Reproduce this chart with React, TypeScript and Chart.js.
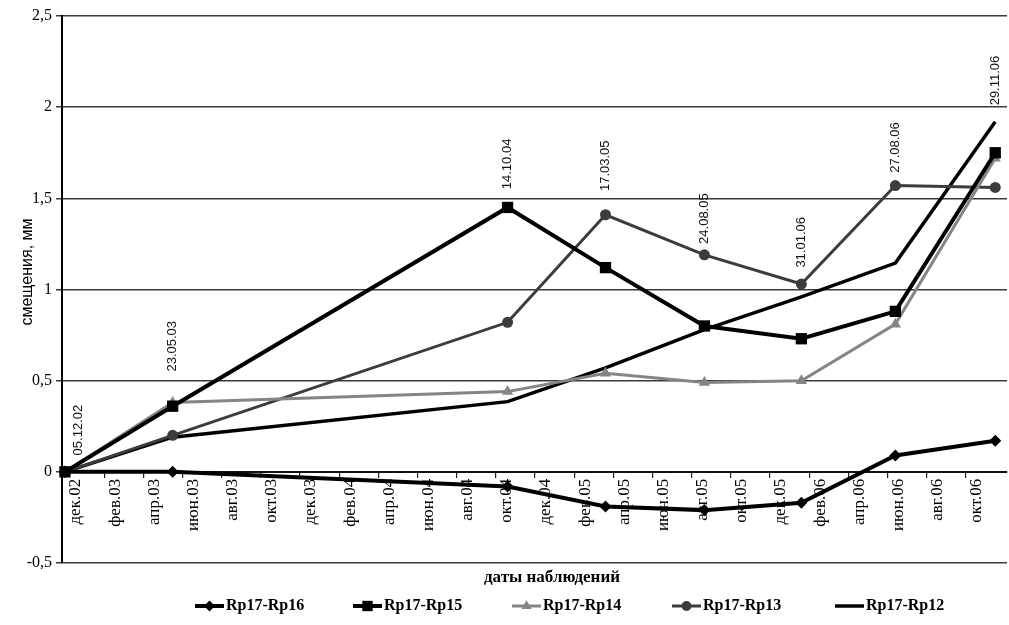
import React, { useEffect, useRef } from 'react';
import { Chart, registerables } from 'chart.js';

Chart.register(...registerables);

// month index counted from Dec 2002 (0 = дек.02)
const MONTH_TICKS = [0, 2, 4, 6, 8, 10, 12, 14, 16, 18, 20, 22, 24, 26, 28, 30, 32, 34, 36, 38, 40, 42, 44, 46];
const TICK_LABELS = [
  'дек.02', 'фев.03', 'апр.03', 'июн.03', 'авг.03', 'окт.03',
  'дек.03', 'фев.04', 'апр.04', 'июн.04', 'авг.04', 'окт.04',
  'дек.04', 'фев.05', 'апр.05', 'июн.05', 'авг.05', 'окт.05',
  'дек.05', 'фев.06', 'апр.06', 'июн.06', 'авг.06', 'окт.06',
];
const Y_TICKS = [-0.5, 0, 0.5, 1, 1.5, 2, 2.5];

// observation epochs (position on the month axis as plotted) and their labels
const OBS_X = [0, 5.5, 22.6, 27.6, 32.65, 37.6, 42.4, 47.5];
const OBS_DATES = ['05.12.02', '23.05.03', '14.10.04', '17.03.05', '24.08.05', '31.01.06', '27.08.06', '29.11.06'];
const OBS_LABEL_Y = [0.09, 0.55, 1.55, 1.54, 1.25, 1.12, 1.64, 2.01];

// displacement series, mm
const RP16 = [0, 0, -0.08, -0.19, -0.21, -0.17, 0.09, 0.17];
const RP15 = [0, 0.36, 1.45, 1.12, 0.8, 0.73, 0.88, 1.75];
const RP14 = [0, 0.38, 0.44, 0.54, 0.49, 0.5, 0.81, 1.72];
const RP13 = [0, 0.2, 0.82, 1.41, 1.19, 1.03, 1.57, 1.56];
const RP12 = [0, 0.19, 0.385, 0.57, 0.78, 0.96, 1.145, 1.92];

const SERIES_NAMES = ['Rp17-Rp16', 'Rp17-Rp15', 'Rp17-Rp14', 'Rp17-Rp13', 'Rp17-Rp12'];
const SERIES_VALUES = [RP16, RP15, RP14, RP13, RP12];

const COLORS = ['#000000', '#000000', '#858585', '#3c3c3c', '#000000'];
const LINE_W = [4, 4, 3, 3, 3.5];
const POINT_STYLE: any[] = ['rectRot', 'rect', 'triangle', 'circle', false];
const POINT_R = [6, 8, 6.5, 5.5, 0];

const SERIF = '"Liberation Serif", "Times New Roman", serif';
const SANS = '"Liberation Sans", Arial, sans-serif';

const textPlugin = {
  id: 'extraTexts',
  afterDraw(chart: any) {
    const { ctx, chartArea } = chart;
    const x = chart.scales.x;
    const y = chart.scales.y;
    ctx.save();

    // date annotations
    ctx.font = '13px ' + SANS;
    ctx.fillStyle = '#111';
    OBS_DATES.forEach((t, i) => {
      let px = x.getPixelForValue(OBS_X[i]);
      px = Math.max(px, chartArea.left + 16);
      const py = y.getPixelForValue(OBS_LABEL_Y[i]);
      ctx.save();
      ctx.translate(px, py);
      ctx.rotate(-Math.PI / 2);
      ctx.textAlign = 'left';
      ctx.textBaseline = 'middle';
      ctx.fillText(t, 0, 0);
      ctx.restore();
    });

    // y title
    ctx.save();
    ctx.font = '16px ' + SANS;
    ctx.fillStyle = '#000';
    ctx.translate(28, 272);
    ctx.rotate(-Math.PI / 2);
    ctx.textAlign = 'center';
    ctx.textBaseline = 'middle';
    ctx.fillText('смещения, мм', 0, 0);
    ctx.restore();

    // x title
    ctx.font = 'bold 17px ' + SERIF;
    ctx.fillStyle = '#000';
    ctx.textAlign = 'center';
    ctx.textBaseline = 'middle';
    ctx.fillText('даты наблюдений', 552, 578);

    // legend
    const starts = [195, 353, 512, 672, 835];
    const ly = 606;
    ctx.font = 'bold 16px ' + SERIF;
    ctx.textAlign = 'left';
    SERIES_NAMES.forEach((name, i) => {
      const sx = starts[i];
      ctx.strokeStyle = COLORS[i];
      ctx.lineWidth = LINE_W[i];
      ctx.beginPath();
      ctx.moveTo(sx, ly);
      ctx.lineTo(sx + 29, ly);
      ctx.stroke();
      ctx.fillStyle = COLORS[i];
      const cx = sx + 14.5;
      const r = POINT_R[i] * 0.9;
      ctx.beginPath();
      if (POINT_STYLE[i] === 'rectRot') {
        ctx.moveTo(cx, ly - r); ctx.lineTo(cx + r, ly); ctx.lineTo(cx, ly + r); ctx.lineTo(cx - r, ly); ctx.closePath(); ctx.fill();
      } else if (POINT_STYLE[i] === 'rect') {
        const s = r * 0.72;
        ctx.rect(cx - s, ly - s, 2 * s, 2 * s); ctx.fill();
      } else if (POINT_STYLE[i] === 'triangle') {
        ctx.moveTo(cx, ly - r); ctx.lineTo(cx + r * 0.87, ly + r * 0.5); ctx.lineTo(cx - r * 0.87, ly + r * 0.5); ctx.closePath(); ctx.fill();
      } else if (POINT_STYLE[i] === 'circle') {
        ctx.arc(cx, ly, r, 0, Math.PI * 2); ctx.fill();
      }
      ctx.fillStyle = '#000';
      ctx.fillText(name, sx + 31, ly);
    });

    ctx.restore();
  },
};

export default function App() {
  const ref = useRef<HTMLCanvasElement | null>(null);

  useEffect(() => {
    if (!ref.current) return;
    const datasets = SERIES_NAMES.map((name, i) => ({
      label: name,
      data: SERIES_VALUES[i].map((v, j) => ({ x: OBS_X[j], y: v })),
      borderColor: COLORS[i],
      backgroundColor: COLORS[i],
      borderWidth: LINE_W[i],
      pointStyle: POINT_STYLE[i],
      pointRadius: POINT_R[i],
      pointBorderWidth: 0,
      pointBackgroundColor: COLORS[i],
      tension: 0,
      clip: false as any,
    }));

    const chart = new Chart(ref.current, {
      type: 'line',
      data: { datasets },
      options: {
        animation: false,
        responsive: false,
        maintainAspectRatio: false,
        layout: { autoPadding: false, padding: { left: 0, right: 2, top: 16, bottom: 62 } },
        plugins: { legend: { display: false }, tooltip: { enabled: false } },
        scales: {
          x: {
            type: 'linear',
            position: { y: 0 } as any,
            min: -0.15,
            max: 48.1,
            afterBuildTicks: (s: any) => {
              s.ticks = MONTH_TICKS.map((v) => ({ value: v }));
            },
            ticks: {
              autoSkip: false,
              minRotation: 90,
              maxRotation: 90,
              labelOffset: 11,
              padding: 2,
              color: '#000',
              font: { family: SERIF, size: 17 },
              callback: (_v: any, i: number) => TICK_LABELS[i],
            },
            grid: { drawOnChartArea: false, drawTicks: true, tickLength: 5, color: '#222', lineWidth: 1.2 },
            border: { display: true, color: '#111', width: 2 },
          },
          y: {
            type: 'linear',
            min: -0.5,
            max: 2.5,
            afterBuildTicks: (s: any) => {
              s.ticks = Y_TICKS.map((v) => ({ value: v }));
            },
            afterFit: (s: any) => {
              s.width = 62;
            },
            ticks: {
              color: '#000',
              padding: 4,
              font: { family: SERIF, size: 16 },
              callback: (v: any) => String(v).replace('.', ','),
            },
            grid: { color: '#3a3a3a', lineWidth: 1.5, drawTicks: true, tickLength: 6 },
            border: { display: true, color: '#000', width: 2 },
          },
        },
      },
      plugins: [textPlugin],
    });
    return () => chart.destroy();
  }, []);

  return (
    <div style={{ position: 'fixed', left: 0, top: 0, width: 1009, height: 625, background: '#fff' }}>
      <canvas ref={ref} width={1009} height={625} style={{ width: 1009, height: 625 }} />
    </div>
  );
}
